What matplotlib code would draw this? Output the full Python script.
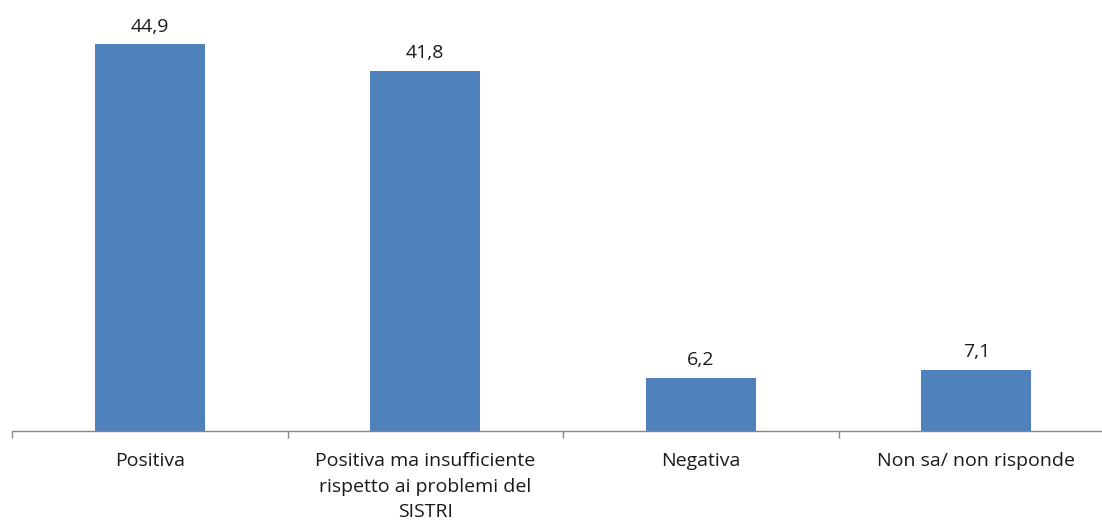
import matplotlib
matplotlib.use('Agg')
import matplotlib.pyplot as plt
import numpy as np

categories = ['Positiva',
              'Positiva ma insufficiente\nrispetto ai problemi del\nSISTRI',
              'Negativa',
              'Non sa/ non risponde']
values = [44.9, 41.8, 6.2, 7.1]
value_labels = ['44,9', '41,8', '6,2', '7,1']

plt.rcParams['font.family'] = ['Open Sans', 'DejaVu Sans']

fig = plt.figure(figsize=(11.02, 5.22), dpi=100)
ax = fig.add_axes([12 / 1102, 91 / 522, 1102 / 1102, 431 / 522])

x = np.arange(len(categories))
bars = ax.bar(x, values, width=0.4, color='#4F81BD')

for rect, lab in zip(bars, value_labels):
    ax.annotate(lab, (rect.get_x() + rect.get_width() / 2, rect.get_height()),
                xytext=(0, 6), textcoords='offset points',
                ha='center', va='bottom', fontsize=14, color='#1a1a1a')

ax.set_xlim(-0.5, len(categories) - 0.5)
ax.set_ylim(0, 50)
ax.set_xticks(x)
ax.set_xticklabels(categories, fontsize=14, color='#1a1a1a', linespacing=1.55)
ax.set_xticks(np.arange(len(categories) + 1) - 0.5, minor=True)
ax.tick_params(axis='x', which='major', length=0, pad=15)
ax.tick_params(axis='x', which='minor', length=5, width=1, color='#868686')
ax.set_yticks([])

for side in ['top', 'right', 'left']:
    ax.spines[side].set_visible(False)
ax.spines['bottom'].set_color('#868686')
ax.spines['bottom'].set_linewidth(1)

fig.savefig('out.png', dpi=100)
